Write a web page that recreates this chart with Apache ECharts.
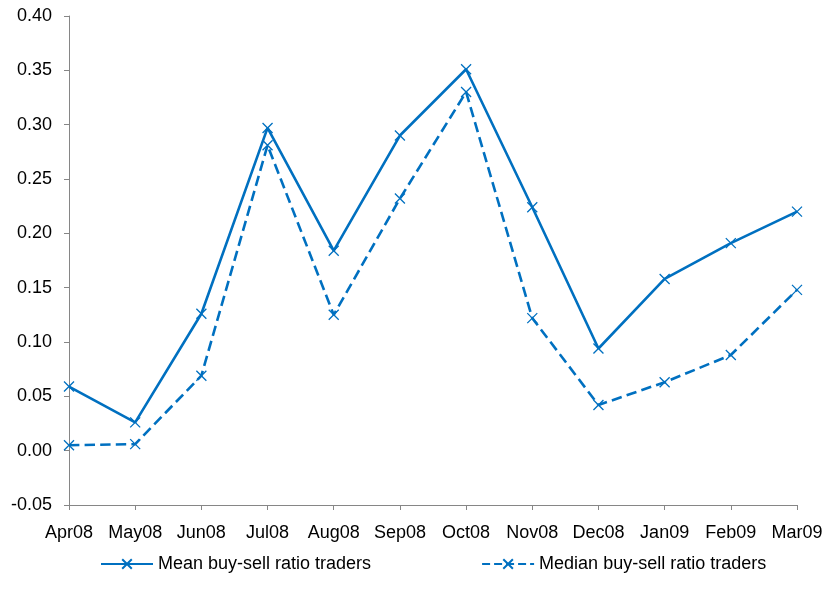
<!DOCTYPE html>
<html><head><meta charset="utf-8">
<script src="https://cdn.jsdelivr.net/npm/echarts@6/dist/echarts.min.js"></script>
<style>html,body{margin:0;padding:0;background:#fff}#c{width:827px;height:603px}</style>
</head><body><div id="c"></div>
<script>
var categories = ['Apr08','May08','Jun08','Jul08','Aug08','Sep08','Oct08','Nov08','Dec08','Jan09','Feb09','Mar09'];
var meanValues = [0.059,0.026,0.126,0.297,0.184,0.290,0.351,0.224,0.094,0.158,0.191,0.220];
var medianValues = [0.005,0.006,0.069,0.281,0.125,0.232,0.330,0.122,0.042,0.063,0.088,0.148];
var seriesNames = ['Mean buy-sell ratio traders','Median buy-sell ratio traders'];
var yTicks = {min:-0.05,max:0.40,interval:0.05};

var color = '#0070C0';
var font = 'Liberation Sans';
var cross = 'path://M0,0L10,10M10,0L0,10';
var chart = echarts.init(document.getElementById('c'), null, {renderer:'canvas'});
function mk(name, data, type){
  return {
    name:name, type:'line', data:data,
    symbol:cross, symbolSize:10, showSymbol:true,
    lineStyle:{color:color,width:2.6,type:type},
    itemStyle:{color:color,borderColor:color,borderWidth:1.3},
    animation:false
  };
}
chart.setOption({
  animation:false,
  textStyle:{fontFamily:font},
  grid:{left:69,right:30,top:16,bottom:98,containLabel:false},
  legend:{
    left:95, top:550, itemGap:110, itemWidth:52, itemHeight:12,
    textStyle:{fontFamily:font,fontSize:18,color:'#000'},
    data:seriesNames
  },
  xAxis:{
    type:'category', data:categories, boundaryGap:false,
    axisLine:{onZero:false,lineStyle:{color:'#868686',width:1}},
    axisTick:{show:true,length:5,inside:false,alignWithLabel:true,lineStyle:{color:'#868686'}},
    axisLabel:{color:'#000',fontSize:18,fontFamily:font,margin:19,interval:0},
    splitLine:{show:false}
  },
  yAxis:{
    type:'value', min:yTicks.min, max:yTicks.max, interval:yTicks.interval,
    axisLine:{show:true,lineStyle:{color:'#868686',width:1}},
    axisTick:{show:true,length:5,lineStyle:{color:'#868686'}},
    axisLabel:{color:'#000',fontSize:18,fontFamily:font,margin:17,formatter:function(v){return v.toFixed(2);}},
    splitLine:{show:false}
  },
  series:[mk(seriesNames[0],meanValues,'solid'), mk(seriesNames[1],medianValues,'dashed')]
});
</script></body></html>
